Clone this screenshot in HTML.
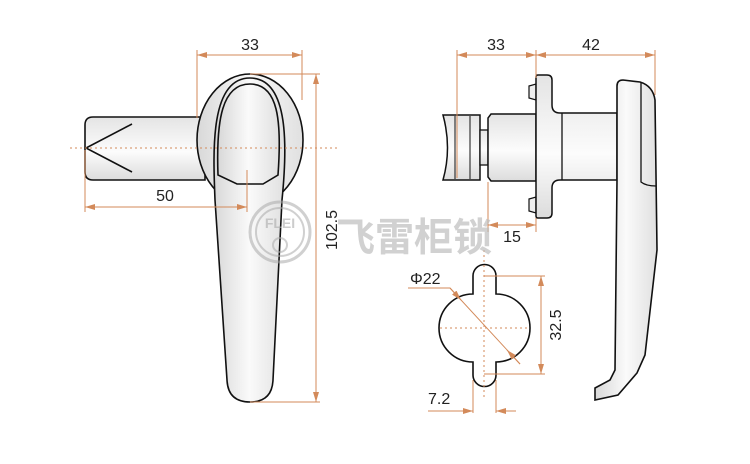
<!DOCTYPE html>
<html><head><meta charset="utf-8"><style>
html,body{margin:0;padding:0;background:#fff;}
svg{display:block;}
text{font-family:"Liberation Sans",sans-serif;fill:#222;}
</style></head><body>
<svg width="750" height="464" viewBox="0 0 750 464" xmlns="http://www.w3.org/2000/svg">
<defs>
<linearGradient id="g" x1="0" x2="1" y1="0" y2="0">
<stop offset="0" stop-color="#d8d8d8"/><stop offset="0.5" stop-color="#fafafa"/><stop offset="1" stop-color="#e0e0e0"/>
</linearGradient>
<linearGradient id="gv" x1="0" x2="0" y1="0" y2="1">
<stop offset="0" stop-color="#e4e4e4"/><stop offset="0.55" stop-color="#fcfcfc"/><stop offset="1" stop-color="#dcdcdc"/>
</linearGradient>
<marker id="a" viewBox="0 0 10 6" refX="10" refY="3" markerWidth="10" markerHeight="6" orient="auto-start-reverse" markerUnits="userSpaceOnUse"><path d="M0,0 L10,3 L0,6 z" fill="#d38a5a"/></marker>
</defs>

<!-- LEFT VIEW -->
<path d="M93,117 L205,117 L205,180 L93,180 Q85,180 85,172 L85,125 Q85,117 93,117 Z" fill="url(#gv)" stroke="#111" stroke-width="1.6"/>
<path d="M132,124 L86,148 L132,172" fill="none" stroke="#111" stroke-width="1.6"/>
<ellipse cx="250" cy="140" rx="53" ry="66" fill="url(#g)" stroke="#111" stroke-width="1.6"/>
<path d="M215,200 C213,150 210,78 250,78 C290,78 287,150 282,200 L273,380 Q272,402 250,402 Q228,402 227,380 Z" fill="url(#g)" stroke="#111" stroke-width="1.6"/>
<path d="M218,175 C216,120 222,84 250,84 C278,84 282,120 278,175 L263,184 L237,184 Z" fill="url(#g)" stroke="#111" stroke-width="1.6"/>

<g stroke="#d38a5a" stroke-width="1" fill="none">
<line x1="70" y1="148" x2="340" y2="148" stroke-dasharray="2,3"/>
<line x1="197" y1="50" x2="197" y2="118"/>
<line x1="302" y1="50" x2="302" y2="100"/>
<line x1="197" y1="55" x2="302" y2="55" marker-start="url(#a)" marker-end="url(#a)"/>
<line x1="250" y1="74" x2="320" y2="74"/>
<line x1="250" y1="402" x2="320" y2="402"/>
<line x1="316" y1="74" x2="316" y2="402" marker-start="url(#a)" marker-end="url(#a)"/>
<line x1="85" y1="150" x2="85" y2="212"/>
<line x1="247" y1="170" x2="247" y2="212"/>
<line x1="85" y1="207" x2="247" y2="207" marker-start="url(#a)" marker-end="url(#a)"/>
</g>
<text x="250" y="50" font-size="16" text-anchor="middle">33</text>
<text x="165" y="201" font-size="16" text-anchor="middle">50</text>
<text transform="translate(337,230) rotate(-90)" font-size="16" text-anchor="middle">102.5</text>

<!-- RIGHT SIDE VIEW -->
<path d="M443,115 L480,115 L480,180 L443,180 Q452,148 443,115 Z" fill="url(#gv)" stroke="#111" stroke-width="1.5"/>
<line x1="455" y1="116" x2="455" y2="179" stroke="#111" stroke-width="1"/>
<line x1="470" y1="116" x2="470" y2="179" stroke="#111" stroke-width="1"/>
<rect x="480" y="130" width="8" height="35" fill="url(#gv)" stroke="#111" stroke-width="1.3"/>
<path d="M491,114 L536,114 L536,181 L491,181 L488,177 L488,118 Z" fill="url(#gv)" stroke="#111" stroke-width="1.5"/>
<path d="M529,86 L536,84 L536,100 L529,98 Z" fill="#eee" stroke="#111" stroke-width="1.2"/>
<path d="M529,199 L536,197 L536,213 L529,211 Z" fill="#eee" stroke="#111" stroke-width="1.2"/>
<path d="M538,75 L547,75 Q552,75 552,80 L552,105 Q552,113 560,113 L617,113 L617,180 L560,180 Q552,180 552,188 L552,213 Q552,218 547,218 L538,218 Q536,218 536,216 L536,77 Q536,75 538,75 Z" fill="url(#gv)" stroke="#111" stroke-width="1.5"/>
<line x1="562" y1="113" x2="562" y2="180" stroke="#111" stroke-width="1.3"/>
<path d="M617,113 L617,86 Q617,80 623,80 L640,82 Q653,86 655,100 L657,250 L645,355 L637,373 L618,395 L595,400 L595,388 L610,380 L615,370 L617,180 Z" fill="url(#g)" stroke="#111" stroke-width="1.6"/>
<path d="M641,83 L641,182 Q646,186 656,186" fill="none" stroke="#111" stroke-width="1.3"/>

<g stroke="#d38a5a" stroke-width="1" fill="none">
<line x1="457" y1="50" x2="457" y2="178"/>
<line x1="536" y1="50" x2="536" y2="78"/>
<line x1="655" y1="50" x2="655" y2="95"/>
<line x1="457" y1="55" x2="536" y2="55" marker-start="url(#a)" marker-end="url(#a)"/>
<line x1="536" y1="55" x2="655" y2="55" marker-start="url(#a)" marker-end="url(#a)"/>
<line x1="488" y1="182" x2="488" y2="232"/>
<line x1="536" y1="218" x2="536" y2="232"/>
<line x1="488" y1="225" x2="536" y2="225" marker-start="url(#a)" marker-end="url(#a)"/>
</g>
<text x="496" y="50" font-size="16" text-anchor="middle">33</text>
<text x="591" y="50" font-size="16" text-anchor="middle">42</text>
<text x="512" y="242" font-size="16" text-anchor="middle">15</text>

<!-- KEYHOLE -->
<path d="M473,294 L473,276 A11.5,11.5 0 0 1 496,276 L496,294 A33,33 0 0 1 496,362 L496,375 A11.5,11.5 0 0 1 473,375 L473,362 A33,33 0 0 1 473,294 Z" fill="#fff" stroke="#111" stroke-width="1.6"/>
<g stroke="#d38a5a" stroke-width="1" fill="none">
<line x1="440" y1="328" x2="530" y2="328" stroke-dasharray="2,3"/>
<line x1="484" y1="250" x2="484" y2="400" stroke-dasharray="2,3"/>
<line x1="484" y1="276" x2="545" y2="276"/>
<line x1="484" y1="374" x2="545" y2="374"/>
<line x1="541" y1="276" x2="541" y2="374" marker-start="url(#a)" marker-end="url(#a)"/>
<path d="M408,288 L450,288 L520,364"/>
<line x1="450" y1="288" x2="461" y2="300" marker-end="url(#a)"/>
<line x1="520" y1="364" x2="507" y2="350" marker-end="url(#a)"/>
<line x1="473" y1="380" x2="473" y2="413"/>
<line x1="496" y1="380" x2="496" y2="413"/>
<line x1="428" y1="411" x2="473" y2="411" marker-end="url(#a)"/>
<line x1="516" y1="411" x2="496" y2="411" marker-end="url(#a)"/>
</g>
<text x="410" y="284" font-size="16">Φ22</text>
<text x="428" y="404" font-size="16">7.2</text>
<text transform="translate(561,325) rotate(-90)" font-size="16" text-anchor="middle">32.5</text>

<!-- watermark on top -->
<g fill="none" stroke="rgba(170,170,170,0.55)" stroke-width="3">
<circle cx="280" cy="232" r="30"/>
<circle cx="280" cy="232" r="24" stroke-width="2"/>
<circle cx="280" cy="245" r="7" stroke-width="2"/>
</g>
<text x="280" y="228" font-size="14" font-weight="bold" text-anchor="middle" style="fill:rgba(170,170,170,0.6)">FLEI</text>
<text x="336" y="251" font-size="39" font-weight="bold" style="fill:rgba(190,190,190,0.7);font-family:'Liberation Sans','Noto Sans CJK SC',sans-serif">飞雷柜锁</text>
</svg>
</body></html>
